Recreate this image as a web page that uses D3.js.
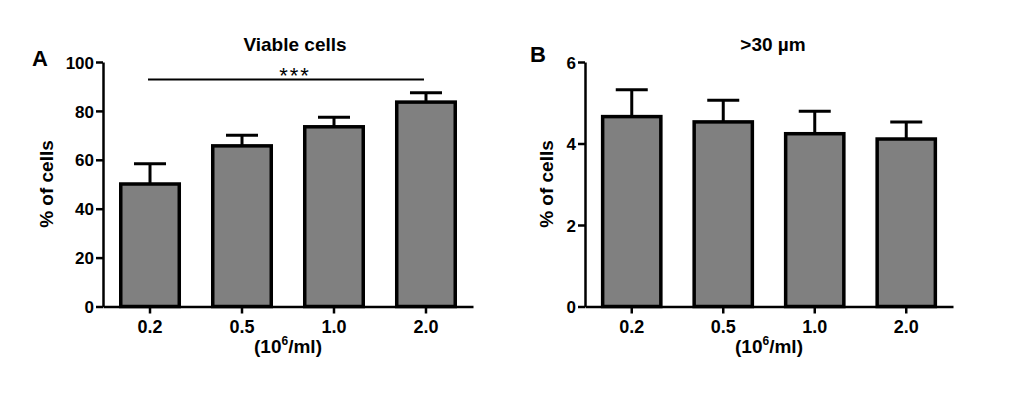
<!DOCTYPE html>
<html>
  <head>
    <meta charset="utf-8">
    <script src="https://d3js.org/d3.v7.min.js"></script>
    <style>
      body { margin: 0; background: white; }
      text { font-family: "Liberation Sans", Arial, sans-serif; font-weight: bold; fill: black; }
    </style>
  </head>
  <body>
    <script type="text/javascript">
      // x categories (cell density, 10^6/ml)
      var categories = ["0.2", "0.5", "1.0", "2.0"];

      // panel A: viable cells, mean and upper SD
      var viableMean = [50.1, 65.7, 73.5, 83.6];
      var viableErr = [8.3, 4.3, 3.9, 3.8];
      var viableTicks = [0, 20, 40, 60, 80, 100];

      // panel B: cells > 30 um
      var largeMean = [4.66, 4.53, 4.24, 4.11];
      var largeErr = [0.66, 0.53, 0.55, 0.42];
      var largeTicks = [0, 2, 4, 6];

      var svg = d3.select("body")
        .append("svg")
          .attr("width", 1023)
          .attr("height", 394);

      function drawPanel(opt) {
        var g = svg.append("g");
        var x = d3.scaleBand()
          .domain(categories)
          .range([opt.left, opt.left + opt.width])
          .paddingInner(0.364)
          .paddingOuter(0.193);
        var y = d3.scaleLinear()
          .domain([0, opt.max])
          .range([306.5, 62]);

        // bars
        g.selectAll("rect.bar")
          .data(opt.mean)
          .enter()
          .append("rect")
            .attr("class", "bar")
            .attr("x", function (d, i) { return x(categories[i]); })
            .attr("width", x.bandwidth())
            .attr("y", function (d) { return y(d); })
            .attr("height", function (d) { return y(0) - y(d); })
            .style("fill", "#808080")
            .style("stroke", "black")
            .style("stroke-width", 3.5);

        // error bars (upper only)
        var cx = function (i) { return x(categories[i]) + x.bandwidth() / 2; };
        g.selectAll("line.err")
          .data(opt.mean)
          .enter()
          .append("line")
            .attr("x1", function (d, i) { return cx(i); })
            .attr("x2", function (d, i) { return cx(i); })
            .attr("y1", function (d) { return y(d); })
            .attr("y2", function (d, i) { return y(d + opt.err[i]); })
            .style("stroke", "black")
            .style("stroke-width", 3);
        g.selectAll("line.cap")
          .data(opt.mean)
          .enter()
          .append("line")
            .attr("x1", function (d, i) { return cx(i) - 16; })
            .attr("x2", function (d, i) { return cx(i) + 16; })
            .attr("y1", function (d, i) { return y(d + opt.err[i]); })
            .attr("y2", function (d, i) { return y(d + opt.err[i]); })
            .style("stroke", "black")
            .style("stroke-width", 3);

        // axes
        var yAxis = g.append("g")
          .attr("transform", "translate(" + opt.left + ",0)")
          .call(d3.axisLeft(y).tickValues(opt.ticks).tickFormat(d3.format("d"))
                .tickSize(7).tickPadding(2).tickSizeOuter(0));
        var xAxis = g.append("g")
          .attr("transform", "translate(0," + y(0) + ")")
          .call(d3.axisBottom(x).tickSize(7).tickPadding(7).tickSizeOuter(0));
        [yAxis, xAxis].forEach(function (a) {
          a.select(".domain").style("stroke", "black").style("stroke-width", 2.5);
          a.selectAll(".tick line").style("stroke", "black").style("stroke-width", 2.5);
        });
        yAxis.selectAll(".tick text")
          .style("font-size", "17px")
          .style("font-family", "Liberation Sans, Arial, sans-serif")
          .style("font-weight", "bold")
          .attr("dy", "0.36em");
        xAxis.selectAll(".tick text")
          .style("font-size", "18px")
          .style("font-family", "Liberation Sans, Arial, sans-serif")
          .style("font-weight", "bold");

        // x-axis title with superscript
        var xt = g.append("text")
          .attr("x", opt.left + opt.width / 2)
          .attr("y", 353)
          .attr("text-anchor", "middle")
          .style("font-size", "19px");
        xt.append("tspan").text("(10");
        xt.append("tspan").attr("dy", -8).style("font-size", "12px").text("6");
        xt.append("tspan").attr("dy", 8).text("/ml)");

        // y-axis title
        g.append("text")
          .attr("transform", "translate(" + (opt.left - opt.ylabDx) + ",184) rotate(-90)")
          .attr("text-anchor", "middle")
          .style("font-size", "19px")
          .text("% of cells");

        // panel title and letter
        g.append("text")
          .attr("x", opt.left + opt.titleDx)
          .attr("y", 51)
          .attr("text-anchor", "middle")
          .style("font-size", "19px")
          .text(opt.title);
        g.append("text")
          .attr("x", opt.left - opt.letterDx)
          .attr("y", opt.letterY)
          .style("font-size", "22px")
          .text(opt.letter);

        return {x: x, y: y, cx: cx, g: g};
      }

      var a = drawPanel({left: 103, width: 370, max: 100, mean: viableMean, err: viableErr,
                         ticks: viableTicks, title: "Viable cells", titleDx: 192,
                         letter: "A", letterDx: 71, letterY: 66, ylabDx: 50});
      drawPanel({left: 585, width: 368, max: 6, mean: largeMean, err: largeErr,
                 ticks: largeTicks, title: ">30 µm", titleDx: 188,
                 letter: "B", letterDx: 55, letterY: 62, ylabDx: 32});

      // significance bar between first and last group
      a.g.append("line")
        .attr("x1", a.cx(0) - 2)
        .attr("x2", a.cx(3) - 2)
        .attr("y1", 79.5)
        .attr("y2", 79.5)
        .style("stroke", "black")
        .style("stroke-width", 2);
      a.g.append("text")
        .attr("x", 295)
        .attr("y", 82.5)
        .attr("text-anchor", "middle")
        .style("font-size", "22px")
        .style("font-weight", "normal")
        .style("letter-spacing", "2px")
        .text("***");
    </script>
  </body>
</html>
